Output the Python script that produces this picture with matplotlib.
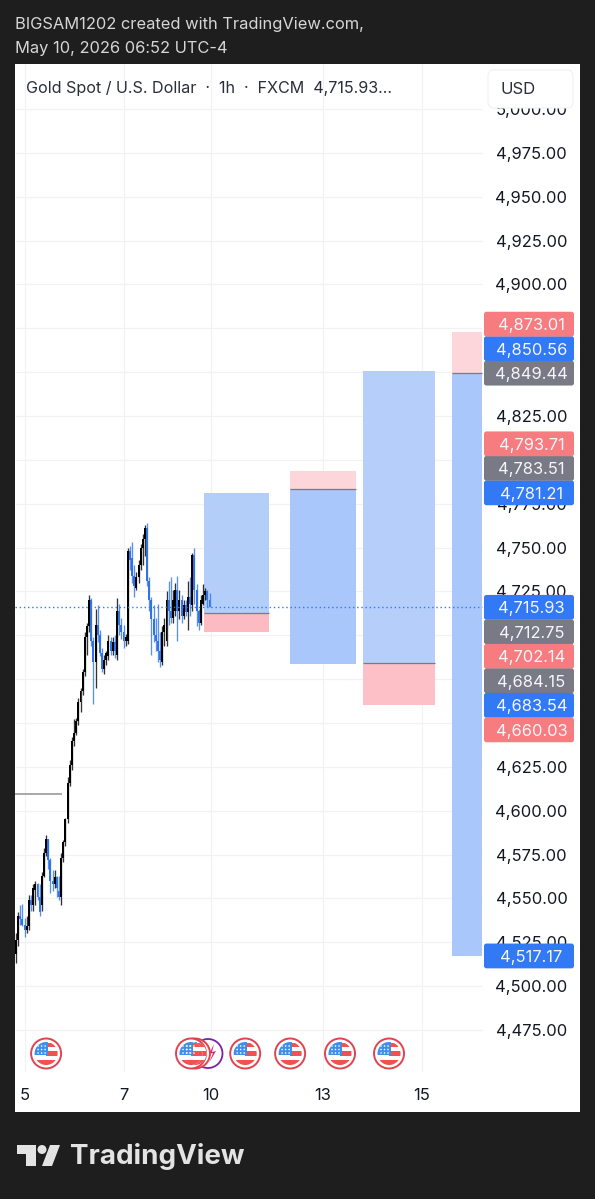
# encoding: UTF-8
import matplotlib
matplotlib.use("Agg")
import matplotlib.pyplot as plt
from matplotlib.patches import Circle, FancyBboxPatch, Polygon, Rectangle
import numpy as np

# hourly gold candles
opens = [4518, 4526, 4540, 4538, 4535, 4532, 4534, 4549, 4546, 4555,
         4558, 4551, 4546, 4563, 4576, 4584, 4572, 4560, 4558, 4562,
         4554, 4551, 4573, 4582, 4595, 4616, 4626, 4640, 4644, 4651,
         4662, 4668, 4679, 4699, 4705, 4720, 4697, 4685, 4706, 4700,
         4690, 4681, 4686, 4688, 4697, 4691, 4696, 4689, 4714, 4706,
         4702, 4697, 4697, 4748, 4744, 4734, 4727, 4733, 4740, 4750,
         4755, 4761, 4731, 4720, 4709, 4700, 4697, 4691, 4685, 4702,
         4697, 4720, 4714, 4710, 4714, 4726, 4714, 4720, 4711, 4717,
         4713, 4722, 4717, 4746, 4726, 4714, 4707, 4718, 4723, 4725,
         4720]
highs = [4530, 4542, 4546, 4547, 4539, 4540, 4552, 4552, 4558, 4560,
         4559, 4558, 4565, 4579, 4586, 4584, 4573, 4566, 4566, 4563,
         4563, 4576, 4583, 4596, 4619, 4629, 4642, 4652, 4653, 4664,
         4670, 4681, 4702, 4707, 4723, 4721, 4699, 4715, 4717, 4703,
         4693, 4689, 4691, 4700, 4699, 4699, 4700, 4721, 4718, 4710,
         4706, 4701, 4750, 4751, 4753, 4740, 4736, 4743, 4752, 4758,
         4763, 4764, 4733, 4722, 4717, 4710, 4718, 4702, 4705, 4710,
         4725, 4731, 4733, 4726, 4730, 4734, 4726, 4723, 4720, 4720,
         4731, 4733, 4747, 4750, 4729, 4715, 4723, 4729, 4727, 4726,
         4724]
lows = [4513, 4523, 4535, 4534, 4528, 4530, 4532, 4543, 4543, 4546,
        4549, 4540, 4543, 4562, 4574, 4567, 4553, 4554, 4556, 4551,
        4549, 4546, 4571, 4580, 4593, 4614, 4623, 4637, 4643, 4649,
        4656, 4666, 4677, 4689, 4702, 4694, 4661, 4670, 4696, 4688,
        4679, 4678, 4683, 4686, 4689, 4689, 4687, 4686, 4700, 4698,
        4693, 4694, 4695, 4737, 4730, 4722, 4726, 4730, 4737, 4740,
        4745, 4728, 4714, 4689, 4696, 4691, 4685, 4682, 4683, 4694,
        4694, 4706, 4707, 4707, 4711, 4697, 4709, 4707, 4709, 4711,
        4703, 4711, 4714, 4718, 4705, 4703, 4706, 4717, 4720, 4716,
        4716]
closes = [4526, 4540, 4538, 4535, 4532, 4534, 4549, 4546, 4556, 4558,
          4551, 4542, 4563, 4576, 4584, 4572, 4560, 4558, 4562, 4556,
          4551, 4573, 4582, 4595, 4616, 4626, 4640, 4644, 4651, 4662,
          4668, 4679, 4699, 4705, 4720, 4697, 4685, 4706, 4700, 4690,
          4681, 4686, 4690, 4697, 4691, 4696, 4691, 4714, 4706, 4702,
          4697, 4699, 4748, 4743, 4734, 4728, 4733, 4740, 4750, 4755,
          4761, 4731, 4720, 4709, 4700, 4697, 4691, 4686, 4702, 4706,
          4720, 4714, 4710, 4720, 4726, 4714, 4720, 4711, 4717, 4713,
          4722, 4718, 4746, 4726, 4714, 4707, 4720, 4723, 4725, 4720,
          4715.93]

last_price = 4715.93
level_line = 4609.6

day_labels = ["5", "7", "10", "13", "15"]
day_bars = [4.2, 50.2, 90.7, 142.8, 188.8]
event_bars = [14.0, 81.4, 106.6, 127.5, 150.7, 173.5]

price_ticks = list(range(4475, 5025, 25))
# these sit fully behind the coloured price tags
hidden_ticks = [4650, 4675, 4700, 4800, 4850, 4875]

# position tools: left bar, right bar, target, entry, stop
tools = [
    (87.4, 117.7, 4781.21, 4712.75, 4702.14, "#b2cdfa", "#fcb9c0"),
    (127.4, 157.9, 4793.71, 4783.51, 4683.54, "#a6c6fa", "#fcd5d9"),
    (161.4, 194.9, 4850.56, 4684.15, 4660.03, "#b3cefa", "#fcbec4"),
    (202.8, 216.7, 4873.01, 4849.44, 4517.17, "#a6c6fa", "#fcd5d9"),
]

RED = "#f77c80"
BLUE = "#3179f5"
GRAY = "#787b86"
# each group of tags stacks away from its anchor price
tag_groups = [
    (4849.44, -1, [("4,849.44", GRAY), ("4,850.56", BLUE), ("4,873.01", RED)]),
    (4781.21, -1, [("4,781.21", BLUE), ("4,783.51", GRAY), ("4,793.71", RED)]),
    (4715.93, 1, [("4,715.93", BLUE), ("4,712.75", GRAY), ("4,702.14", RED),
                  ("4,684.15", GRAY), ("4,683.54", BLUE), ("4,660.03", RED)]),
    (4517.17, 1, [("4,517.17", BLUE)]),
]
tag_step = 13.97

BG = "#1e1e1e"
GRID = "#f1f2f5"
FONT = "Inter"


def draw_flag(o, x, y):
    o.add_patch(Circle((x, y), 15, fc="white", ec="#e0434f", lw=1.4, zorder=6))
    clip = Circle((x, y), 11.5, transform=o.transData)
    parts = [
        ((x - 12, y - 12), 24, 24, "white"),
        ((x, y - 11), 12, 4, "#f0524f"),
        ((x, y - 2.5), 12, 4.5, "#f0524f"),
        ((x - 12, y + 6), 24, 6, "#f0524f"),
        ((x - 12, y - 12), 13.5, 13.5, "#3f8fe8"),
    ]
    for xy, w, h, c in parts:
        r = Rectangle(xy, w, h, fc=c, ec="none", zorder=7)
        o.add_patch(r)
        r.set_clip_path(clip)
    for dx in (-8, -4.5, -1):
        for dy in (-7.5, -4, -0.5):
            o.add_patch(Circle((x + dx, y + dy), 0.8, fc="white", ec="none", zorder=8))


fig = plt.figure(figsize=(5.95, 11.99), dpi=100, facecolor=BG)
ax = fig.add_axes([15 / 595, 1 - 1112 / 1199, 565 / 595, 1048 / 1199], facecolor="white")
ax.set_xlim(-0.465, 262.3)
ax.set_ylim(4428.2, 5025.7)
ax.set_xticks([])
ax.set_yticks([])
for s in ax.spines.values():
    s.set_visible(False)

scale_left = (482 - 15) / 565
trans = ax.get_yaxis_transform()

# grid
ax.hlines(price_ticks, 0, scale_left, transform=trans, color=GRID, lw=0.9, zorder=1)
ax.vlines(day_bars, 4451, 5025.7, color=GRID, lw=0.9, zorder=1)

# position tools
for left, right, target, entry, stop, c_blue, c_red in tools:
    w = right - left
    if (target - entry) > (entry - stop):
        top_c, bot_c = c_blue, c_red
    else:
        top_c, bot_c = c_red, c_blue
    ax.add_patch(Rectangle((left, entry), w, target - entry, fc=top_c, ec="none", alpha=0.97, zorder=2))
    ax.add_patch(Rectangle((left, stop), w, entry - stop, fc=bot_c, ec="none", alpha=0.97, zorder=2))
    ax.hlines(entry, left, right, color=GRAY, lw=0.9, zorder=3)

# candles
bars = np.arange(len(opens))
o_arr = np.array(opens)
c_arr = np.array(closes)
colors = ["#000000" if c >= o else "#2f74e6" for o, c in zip(o_arr, c_arr)]
ax.vlines(bars, lows, highs, colors=colors, lw=0.95, alpha=0.8, zorder=4)
ax.bar(bars, c_arr - o_arr, bottom=o_arr, width=0.9, color=colors, lw=0, zorder=4)

ax.hlines(last_price, 0, scale_left, transform=trans, color=BLUE, lw=1.0, ls=(0, (1, 2)), zorder=5)
ax.hlines(level_line, -0.465, 21.5, color="#9a9a9a", lw=1.2, zorder=3)

# price scale
label_x = (531.5 - 15) / 565
for p in price_ticks:
    if p in hidden_ticks:
        continue
    ax.text(label_x, p, "{:,.2f}".format(p), transform=trans, ha="center", va="center_baseline",
            fontsize=11.9, family=FONT, color="#131722", zorder=6)

# everything tied to the page goes on a pixel overlay
o = fig.add_axes([0, 0, 1, 1], facecolor="none")
o.set_xlim(0, 595)
o.set_ylim(1199, 0)
o.axis("off")


def price_to_page(p):
    disp = ax.transData.transform((0, p))
    return o.transData.inverted().transform(disp)[1]


for anchor, direction, tags in tag_groups:
    for n, (text, col) in enumerate(tags):
        y = price_to_page(anchor - direction * n * tag_step)
        o.add_patch(FancyBboxPatch((484, y - 12.4), 90, 24.8, boxstyle="round,pad=0,rounding_size=2.5",
                                   fc=col, ec="none", zorder=3))
        o.text(531.5, y, text, ha="center", va="center_baseline", fontsize=11.9, family=FONT,
               color="#f4f6fb", zorder=4)

o.text(15, 24, "BIGSAM1202 created with TradingView.com,", fontsize=11.85, family="Inter",
       color="#d6d6d6", va="center")
o.text(15, 49, "May 10, 2026 06:52 UTC-4", fontsize=11.85, family="Inter", color="#d6d6d6", va="center")
o.text(26, 88, "Gold Spot / U.S. Dollar  ·  1h  ·  FXCM  4,715.93...", fontsize=11.6, family="Inter",
       color="#2a2e39", va="center")

# header cover over the top of the 5,000 label, and the USD button
o.add_patch(Rectangle((484, 64), 94, 43, fc="white", ec="none", zorder=3))
o.add_patch(FancyBboxPatch((488, 70), 85, 38, boxstyle="round,pad=0,rounding_size=6",
                           fc="white", ec="#f0f1f4", lw=0.8, zorder=4))
o.text(501, 89, "USD", fontsize=12, family=FONT, color="#2a2e39", va="center", zorder=5)

for i, label in zip(day_bars, day_labels):
    o.text(16 + 2.15 * i, 1095, label, fontsize=11.9, family=FONT, color="#131722", ha="center", va="center")

# events row
o.add_patch(Circle((208, 1053.5), 14.5, fc="white", ec="#7b22a8", lw=1.3, zorder=4))
o.add_patch(Polygon([(214, 1044), (209, 1054), (213, 1053), (209, 1063), (216, 1051), (212, 1052)],
                    fc="#d42f7f", ec="none", zorder=4))
draw_flag(o, 195, 1053.5)
for i in event_bars:
    draw_flag(o, 16 + 2.15 * i, 1053.5)

# logo
LOGO = "#e3e3e3"
o.add_patch(Polygon([(17, 1145), (36, 1145), (36, 1166), (26, 1166), (26, 1154), (17, 1154)], fc=LOGO, ec="none"))
o.add_patch(Circle((42, 1149.5), 4.5, fc=LOGO, ec="none"))
o.add_patch(Polygon([(50, 1145), (60, 1145), (52, 1166), (42, 1166)], fc=LOGO, ec="none"))
o.text(70, 1156, "TradingView", fontsize=20, family="Inter", weight="bold", color=LOGO, va="center")

fig.savefig("out.png", dpi=100, facecolor=BG)
